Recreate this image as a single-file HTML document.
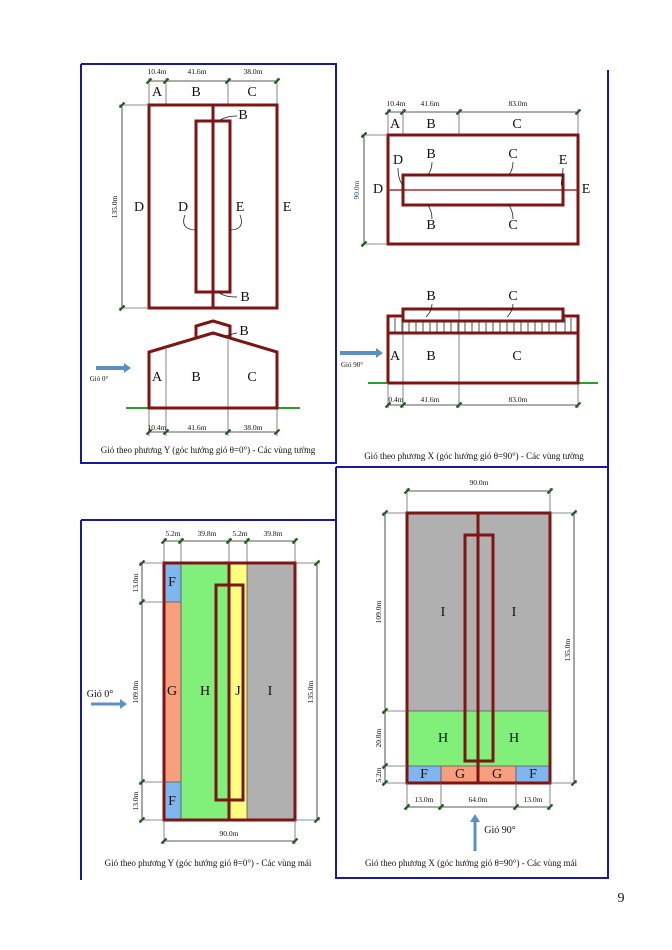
<!DOCTYPE html>
<html><head><meta charset="utf-8"><style>
html,body{margin:0;padding:0;background:#fff;}
svg{display:block;}
text{font-family:"Liberation Serif",serif;fill:#111;}
.L{font-size:14px;text-anchor:middle;dominant-baseline:middle;}
.d{font-size:7.5px;text-anchor:middle;}
.c{font-size:9px;text-anchor:middle;}
.r{fill:none;stroke:#7e1414;stroke-width:3;}
.rt{fill:none;stroke:#7e1414;stroke-width:1.5;}
.g{stroke:#666;stroke-width:0.8;fill:none;}
.k{stroke:#222;stroke-width:0.8;fill:none;}
.t{stroke:#1f5a1f;stroke-width:2.2;}
.b{stroke:#1a1a96;stroke-width:2;fill:none;}
.ld{fill:none;stroke:#222;stroke-width:0.8;}
</style></head><body>
<svg width="672" height="950" viewBox="0 0 672 950" xmlns="http://www.w3.org/2000/svg">
<defs>
<g id="tk"><line x1="-2.5" y1="2.5" x2="2.5" y2="-2.5" class="t"/></g>
</defs>

<!-- frames -->
<polyline class="b" points="81,64 336,64 336,463 81,463 81,64"/>
<line class="b" x1="608" y1="70" x2="608" y2="467"/>
<line class="b" x1="336" y1="467" x2="608" y2="467"/>
<polyline class="b" points="336,467 336,878 608,878 608,467"/>
<line class="b" x1="81" y1="520" x2="336" y2="520"/>
<line class="b" x1="81" y1="520" x2="81" y2="880"/>

<!-- ===== Top-left ===== -->
<line class="k" x1="149" y1="81" x2="277" y2="81"/>
<g class="g"><line x1="149" y1="78" x2="149" y2="105"/><line x1="166" y1="78" x2="166" y2="105"/><line x1="228" y1="78" x2="228" y2="105"/><line x1="277" y1="78" x2="277" y2="105"/></g>
<use href="#tk" x="149" y="81"/><use href="#tk" x="166" y="81"/><use href="#tk" x="228" y="81"/><use href="#tk" x="277" y="81"/>
<text class="d" x="157" y="74">10.4m</text><text class="d" x="197" y="74">41.6m</text><text class="d" x="253" y="74">38.0m</text>
<text class="L" x="157" y="93">A</text><text class="L" x="196" y="93">B</text><text class="L" x="252" y="93">C</text>
<rect class="r" x="149" y="105" width="128" height="203"/>
<line class="r" x1="213" y1="105" x2="213" y2="308"/>
<rect class="r" x="196" y="121" width="34" height="171"/>
<line class="k" x1="122" y1="105" x2="122" y2="308"/>
<line class="g" x1="119" y1="105" x2="149" y2="105"/><line class="g" x1="119" y1="308" x2="149" y2="308"/>
<use href="#tk" x="122" y="105"/><use href="#tk" x="122" y="308"/>
<text class="d" transform="translate(117,207) rotate(-90)">135.0m</text>
<text class="L" x="139" y="208">D</text><text class="L" x="183" y="208">D</text><text class="L" x="240" y="208">E</text><text class="L" x="287" y="208">E</text>
<path class="ld" d="M185,215 C180,228 190,230 196,230"/>
<path class="ld" d="M240,215 C245,228 236,230 230,230"/>
<path class="ld" d="M218,121 C224,118 228,116 237,116"/>
<path class="ld" d="M218,292 C224,296 228,297 237,297"/>
<text class="L" x="243" y="116">B</text><text class="L" x="245" y="298">B</text>
<!-- elevation -->
<line x1="126" y1="408" x2="300" y2="408" stroke="#2aa02a" stroke-width="2"/>
<g class="g"><line x1="166" y1="349" x2="166" y2="436"/><line x1="228" y1="340" x2="228" y2="436"/><line x1="149" y1="408" x2="149" y2="436"/><line x1="277" y1="408" x2="277" y2="436"/></g>
<polygon class="r" points="149,408 149,352 213,333 277,352 277,408"/>
<polyline class="r" points="196,338 196,326 213,321 230,326 230,338"/>
<path class="ld" d="M218,335 C225,338 230,334 237,333"/>
<text class="L" x="244" y="332">B</text>
<text class="L" x="157" y="378">A</text><text class="L" x="196" y="378">B</text><text class="L" x="252" y="378">C</text>
<line x1="96" y1="368" x2="124" y2="368" stroke="#5b8fc8" stroke-width="4"/>
<polygon points="124,363 131,368 124,373" fill="#5b8fc8"/>
<text class="d" x="99" y="381" style="font-size:7px">Gió 0°</text>
<line class="k" x1="149" y1="432" x2="277" y2="432"/>
<use href="#tk" x="149" y="432"/><use href="#tk" x="166" y="432"/><use href="#tk" x="228" y="432"/><use href="#tk" x="277" y="432"/>
<text class="d" x="157" y="430">10.4m</text><text class="d" x="197" y="430">41.6m</text><text class="d" x="253" y="430">38.0m</text>
<text class="c" x="208" y="453">Gió theo phương Y (góc hướng gió  θ=0°) - Các vùng tường</text>

<!-- ===== Top-right ===== -->
<line class="k" x1="388" y1="112" x2="578" y2="112"/>
<g class="g"><line x1="388" y1="109" x2="388" y2="135"/><line x1="403" y1="109" x2="403" y2="135"/><line x1="459" y1="109" x2="459" y2="135"/><line x1="578" y1="109" x2="578" y2="135"/></g>
<use href="#tk" x="388" y="112"/><use href="#tk" x="403" y="112"/><use href="#tk" x="459" y="112"/><use href="#tk" x="578" y="112"/>
<text class="d" x="396" y="106">10.4m</text><text class="d" x="430" y="106">41.6m</text><text class="d" x="518" y="106">83.0m</text>
<text class="L" x="395" y="125">A</text><text class="L" x="431" y="125">B</text><text class="L" x="517" y="125">C</text>
<rect class="r" x="388" y="135" width="190" height="109"/>
<line x1="388" y1="190" x2="578" y2="190" stroke="#9a3030" stroke-width="1.5"/>
<rect class="r" x="403" y="175" width="160" height="30"/>
<line class="k" x1="364" y1="135" x2="364" y2="244"/>
<line class="g" x1="361" y1="135" x2="388" y2="135"/><line class="g" x1="361" y1="244" x2="388" y2="244"/>
<use href="#tk" x="364" y="135"/><use href="#tk" x="364" y="244"/>
<text class="d" transform="translate(359,190) rotate(-90)" style="fill:#33507a">90.0m</text>
<text class="L" x="378" y="190">D</text><text class="L" x="586" y="190">E</text>
<text class="L" x="398" y="161">D</text><text class="L" x="431" y="155">B</text><text class="L" x="513" y="155">C</text><text class="L" x="563" y="161">E</text>
<text class="L" x="431" y="226">B</text><text class="L" x="513" y="226">C</text>
<path class="ld" d="M398,168 C398,178 401,184 404,186"/>
<path class="ld" d="M432,162 C432,168 430,172 428,175"/>
<path class="ld" d="M513,162 C513,168 511,172 509,175"/>
<path class="ld" d="M563,168 C563,178 560,184 562,186"/>
<path class="ld" d="M428,205 C430,209 432,212 432,219"/>
<path class="ld" d="M509,205 C511,209 513,212 513,219"/>
<!-- elevation -->
<line x1="368" y1="383" x2="598" y2="383" stroke="#2aa02a" stroke-width="2"/>
<g class="g"><line x1="403" y1="322" x2="403" y2="408"/><line x1="459" y1="309" x2="459" y2="408"/><line x1="388" y1="383" x2="388" y2="408"/><line x1="578" y1="383" x2="578" y2="408"/></g>
<g stroke="#222" stroke-width="0.8">
<line x1="395" y1="318" x2="395" y2="333"/><line x1="402" y1="318" x2="402" y2="333"/><line x1="409" y1="322" x2="409" y2="333"/><line x1="416" y1="322" x2="416" y2="333"/><line x1="423" y1="322" x2="423" y2="333"/><line x1="430" y1="322" x2="430" y2="333"/><line x1="437" y1="322" x2="437" y2="333"/><line x1="444" y1="322" x2="444" y2="333"/><line x1="451" y1="322" x2="451" y2="333"/><line x1="458" y1="322" x2="458" y2="333"/><line x1="465" y1="322" x2="465" y2="333"/><line x1="472" y1="322" x2="472" y2="333"/><line x1="479" y1="322" x2="479" y2="333"/><line x1="486" y1="322" x2="486" y2="333"/><line x1="493" y1="322" x2="493" y2="333"/><line x1="500" y1="322" x2="500" y2="333"/><line x1="507" y1="322" x2="507" y2="333"/><line x1="514" y1="322" x2="514" y2="333"/><line x1="521" y1="322" x2="521" y2="333"/><line x1="528" y1="322" x2="528" y2="333"/><line x1="535" y1="322" x2="535" y2="333"/><line x1="542" y1="322" x2="542" y2="333"/><line x1="549" y1="322" x2="549" y2="333"/><line x1="556" y1="322" x2="556" y2="333"/><line x1="565" y1="318" x2="565" y2="333"/><line x1="571" y1="318" x2="571" y2="333"/></g>
<polyline class="r" points="388,383 388,316 403,316"/>
<polyline class="r" points="563,316 578,316 578,383 388,383"/>
<line class="r" x1="388" y1="333" x2="578" y2="333"/>
<rect class="r" x="403" y="309" width="160" height="12"/>
<text class="L" x="431" y="297">B</text><text class="L" x="513" y="297">C</text>
<path class="ld" d="M432,304 C432,310 429,314 426,317"/>
<path class="ld" d="M513,304 C513,310 510,314 507,317"/>
<text class="L" x="395" y="357">A</text><text class="L" x="431" y="357">B</text><text class="L" x="517" y="357">C</text>
<line x1="340" y1="353" x2="376" y2="353" stroke="#5b8fc8" stroke-width="4"/>
<polygon points="376,348 383,353 376,358" fill="#5b8fc8"/>
<text class="d" x="352" y="367" style="font-size:7px">Gió 90°</text>
<line class="k" x1="388" y1="405" x2="578" y2="405"/>
<use href="#tk" x="388" y="405"/><use href="#tk" x="403" y="405"/><use href="#tk" x="459" y="405"/><use href="#tk" x="578" y="405"/>
<text class="d" x="396" y="402">0.4m</text><text class="d" x="430" y="402">41.6m</text><text class="d" x="518" y="402">83.0m</text>
<text class="c" x="474" y="459">Gió theo phương X (góc hướng gió  θ=90°) - Các vùng tường</text>

<!-- ===== Bottom-left ===== -->
<line class="k" x1="164" y1="541" x2="295" y2="541"/>
<g class="g"><line x1="164" y1="538" x2="164" y2="563"/><line x1="181" y1="538" x2="181" y2="563"/><line x1="229" y1="538" x2="229" y2="563"/><line x1="247" y1="538" x2="247" y2="563"/><line x1="295" y1="538" x2="295" y2="563"/></g>
<use href="#tk" x="164" y="541"/><use href="#tk" x="181" y="541"/><use href="#tk" x="229" y="541"/><use href="#tk" x="247" y="541"/><use href="#tk" x="295" y="541"/>
<text class="d" x="173" y="536">5.2m</text><text class="d" x="207" y="536">39.8m</text><text class="d" x="240" y="536">5.2m</text><text class="d" x="273" y="536">39.8m</text>
<rect x="164" y="563" width="17" height="39" fill="#7fb6ee"/>
<rect x="164" y="602" width="17" height="180" fill="#f79e7c"/>
<rect x="164" y="782" width="17" height="38" fill="#7fb6ee"/>
<rect x="181" y="563" width="48" height="257" fill="#80f07a"/>
<rect x="229" y="563" width="18" height="257" fill="#ffff80"/>
<rect x="247" y="563" width="48" height="257" fill="#b0b0b0"/>
<g stroke="#555" stroke-width="0.8"><line x1="164" y1="602" x2="181" y2="602"/><line x1="164" y1="782" x2="181" y2="782"/><line x1="181" y1="563" x2="181" y2="820"/><line x1="247" y1="563" x2="247" y2="820"/></g>
<rect class="r" x="164" y="563" width="131" height="257"/>
<line class="r" x1="229" y1="563" x2="229" y2="820"/>
<rect class="r" x="216" y="585" width="27" height="215"/>
<line class="k" x1="142" y1="563" x2="142" y2="820"/>
<g class="g"><line x1="139" y1="563" x2="164" y2="563"/><line x1="139" y1="602" x2="164" y2="602"/><line x1="139" y1="782" x2="164" y2="782"/><line x1="139" y1="820" x2="164" y2="820"/><line x1="295" y1="563" x2="320" y2="563"/><line x1="295" y1="820" x2="320" y2="820"/><line x1="164" y1="820" x2="164" y2="844"/><line x1="295" y1="820" x2="295" y2="844"/></g>
<use href="#tk" x="142" y="563"/><use href="#tk" x="142" y="602"/><use href="#tk" x="142" y="782"/><use href="#tk" x="142" y="820"/>
<text class="d" transform="translate(138,583) rotate(-90)">13.0m</text>
<text class="d" transform="translate(138,692) rotate(-90)">109.0m</text>
<text class="d" transform="translate(138,801) rotate(-90)">13.0m</text>
<line class="k" x1="317" y1="563" x2="317" y2="820"/>
<use href="#tk" x="317" y="563"/><use href="#tk" x="317" y="820"/>
<text class="d" transform="translate(313,692) rotate(-90)">135.0m</text>
<line class="k" x1="164" y1="841" x2="295" y2="841"/>
<use href="#tk" x="164" y="841"/><use href="#tk" x="295" y="841"/>
<text class="d" x="229" y="836">90.0m</text>
<text class="L" x="172" y="583">F</text><text class="L" x="172" y="692">G</text><text class="L" x="205" y="692">H</text><text class="L" x="238" y="692">J</text><text class="L" x="270" y="692">I</text><text class="L" x="172" y="802">F</text>
<line x1="91" y1="704" x2="120" y2="704" stroke="#5b8fc8" stroke-width="3"/>
<polygon points="120,699 127,704 120,709" fill="#5b8fc8"/>
<text x="100" y="697" style="font-size:10px;text-anchor:middle">Gió 0°</text>
<text class="c" x="208" y="866">Gió theo phương Y (góc hướng gió  θ=0°) - Các vùng mái</text>

<!-- ===== Bottom-right ===== -->
<line class="k" x1="407" y1="491" x2="550" y2="491"/>
<g class="g"><line x1="407" y1="488" x2="407" y2="513"/><line x1="550" y1="488" x2="550" y2="513"/></g>
<use href="#tk" x="407" y="491"/><use href="#tk" x="550" y="491"/>
<text class="d" x="479" y="485">90.0m</text>
<rect x="407" y="513" width="143" height="198" fill="#b0b0b0"/>
<rect x="407" y="711" width="143" height="55" fill="#80f07a"/>
<rect x="407" y="766" width="34" height="17" fill="#7fb6ee"/>
<rect x="441" y="766" width="75" height="17" fill="#f79e7c"/>
<rect x="516" y="766" width="34" height="17" fill="#7fb6ee"/>
<g stroke="#555" stroke-width="0.8"><line x1="407" y1="711" x2="550" y2="711"/><line x1="407" y1="766" x2="550" y2="766"/><line x1="441" y1="766" x2="441" y2="783"/><line x1="516" y1="766" x2="516" y2="783"/></g>
<rect class="r" x="407" y="513" width="143" height="270"/>
<line class="r" x1="478" y1="513" x2="478" y2="783"/>
<rect class="r" x="465" y="535" width="28" height="226"/>
<line class="k" x1="385" y1="513" x2="385" y2="783"/>
<g class="g"><line x1="382" y1="513" x2="407" y2="513"/><line x1="382" y1="711" x2="407" y2="711"/><line x1="382" y1="766" x2="407" y2="766"/><line x1="382" y1="783" x2="407" y2="783"/><line x1="550" y1="513" x2="577" y2="513"/><line x1="550" y1="783" x2="577" y2="783"/><line x1="407" y1="783" x2="407" y2="810"/><line x1="441" y1="783" x2="441" y2="810"/><line x1="516" y1="783" x2="516" y2="810"/><line x1="550" y1="783" x2="550" y2="810"/></g>
<use href="#tk" x="385" y="513"/><use href="#tk" x="385" y="711"/><use href="#tk" x="385" y="766"/><use href="#tk" x="385" y="783"/>
<text class="d" transform="translate(381,612) rotate(-90)">109.0m</text>
<text class="d" transform="translate(381,738) rotate(-90)">20.8m</text>
<text class="d" transform="translate(381,775) rotate(-90)">5.2m</text>
<line class="k" x1="574" y1="513" x2="574" y2="783"/>
<use href="#tk" x="574" y="513"/><use href="#tk" x="574" y="783"/>
<text class="d" transform="translate(570,650) rotate(-90)">135.0m</text>
<line class="k" x1="407" y1="807" x2="550" y2="807"/>
<use href="#tk" x="407" y="807"/><use href="#tk" x="441" y="807"/><use href="#tk" x="516" y="807"/><use href="#tk" x="550" y="807"/>
<text class="d" x="424" y="802">13.0m</text><text class="d" x="478" y="802">64.0m</text><text class="d" x="533" y="802">13.0m</text>
<text class="L" x="443" y="613">I</text><text class="L" x="514" y="613">I</text>
<text class="L" x="443" y="739">H</text><text class="L" x="514" y="739">H</text>
<text class="L" x="424" y="775">F</text><text class="L" x="460" y="775">G</text><text class="L" x="497" y="775">G</text><text class="L" x="533" y="775">F</text>
<line x1="475" y1="851" x2="475" y2="822" stroke="#5b8fc8" stroke-width="3"/>
<polygon points="470,822 475,814 480,822" fill="#5b8fc8"/>
<text x="500" y="833" style="font-size:10px;text-anchor:middle">Gió 90°</text>
<text class="c" x="471" y="866">Gió theo phương X (góc hướng gió  θ=90°) - Các vùng mái</text>

<text x="621" y="902" style="font-size:14px;text-anchor:middle">9</text>
</svg>
</body></html>
